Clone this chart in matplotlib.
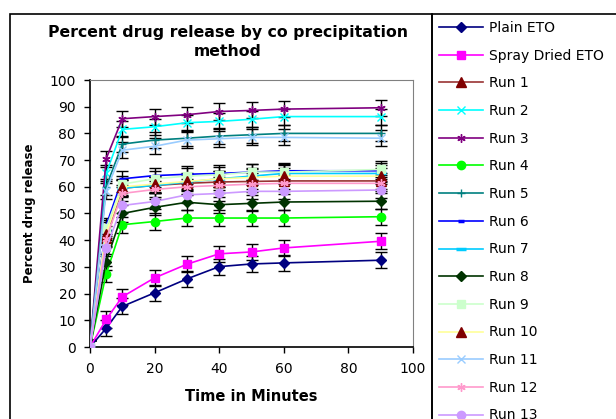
import matplotlib
matplotlib.use("Agg")
import matplotlib.pyplot as plt
from matplotlib.patches import Rectangle

# Dissolution time points (minutes)
time = [0, 5, 10, 20, 30, 40, 50, 60, 90]

# Percent drug released
plain_eto = [0, 7.0, 15.2, 20.3, 25.5, 30.1, 31.1, 31.5, 32.5]
spray_eto = [0, 10.3, 18.8, 25.9, 31.0, 34.9, 35.6, 37.1, 39.6]
run1 = [0, 41.0, 59.5, 60.5, 61.3, 61.8, 62.0, 62.2, 62.2]
run2 = [0, 65.0, 81.5, 82.5, 84.0, 84.5, 85.3, 86.3, 86.3]
run3 = [0, 70.5, 85.5, 86.3, 87.0, 88.2, 88.6, 89.1, 89.6]
run4 = [0, 27.3, 45.8, 47.0, 48.3, 48.3, 48.3, 48.3, 48.8]
run5 = [0, 60.0, 76.0, 77.5, 78.2, 79.0, 79.5, 80.0, 80.0]
run6 = [0, 45.5, 63.0, 64.2, 64.7, 65.0, 65.5, 66.0, 66.0]
run7 = [0, 44.0, 59.5, 60.5, 61.8, 63.0, 64.0, 65.0, 65.0]
run8 = [0, 32.0, 50.0, 52.3, 54.2, 53.3, 53.8, 54.3, 54.6]
run9 = [0, 44.5, 61.0, 63.0, 64.0, 64.5, 65.5, 65.5, 66.5]
run10 = [0, 42.5, 60.0, 61.0, 62.0, 63.0, 63.5, 64.0, 64.0]
run11 = [0, 58.5, 73.7, 75.2, 77.5, 78.0, 78.5, 78.5, 78.2]
run12 = [0, 40.5, 57.5, 59.0, 60.0, 60.5, 61.0, 61.3, 61.3]
run13 = [0, 37.0, 53.0, 54.5, 57.0, 57.5, 58.3, 58.3, 58.8]

# Standard deviation at each time point
sd = [2.5, 3, 3, 3, 3, 3, 3, 3, 3]

asterisk = (6, 2, 0)

# label, values, line colour, marker, marker colour, marker size
series = [
    ("Plain ETO", plain_eto, "#000080", "D", "#000080", 5),
    ("Spray Dried ETO", spray_eto, "#FF00FF", "s", "#FF00FF", 6),
    ("Run 1", run1, "#993333", "^", "#800000", 7),
    ("Run 2", run2, "#00FFFF", "x", "#00FFFF", 6),
    ("Run 3", run3, "#800080", asterisk, "#800080", 6),
    ("Run 4", run4, "#00FF00", "o", "#00FF00", 6),
    ("Run 5", run5, "#008080", "+", "#008080", 6),
    ("Run 6", run6, "#0000FF", "_", "#0000FF", 5),
    ("Run 7", run7, "#00CCFF", "_", "#00CCFF", 7),
    ("Run 8", run8, "#003300", "D", "#003300", 5),
    ("Run 9", run9, "#CCFFCC", "s", "#CCFFCC", 6),
    ("Run 10", run10, "#FFFF99", "^", "#800000", 7),
    ("Run 11", run11, "#99CCFF", "x", "#99CCFF", 6),
    ("Run 12", run12, "#FF99CC", asterisk, "#FF99CC", 6),
    ("Run 13", run13, "#CC99FF", "o", "#CC99FF", 6),
]

plt.rcParams["font.family"] = "DejaVu Sans"

fig = plt.figure(figsize=(6.16, 4.19), dpi=100)
ax = fig.add_axes([90 / 616, 72 / 419, 323 / 616, 267 / 419])

handles = []
for label, vals, lc, mk, mc, ms in series:
    ax.errorbar(time, vals, yerr=sd, fmt="none", ecolor="black",
                elinewidth=1, capsize=4.5, capthick=1, zorder=2)
    mew = 2.5 if mk == "_" else 1
    h, = ax.plot(time, vals, color=lc, lw=1.2, marker=mk, markersize=ms,
                 markerfacecolor=mc, markeredgecolor=mc, markeredgewidth=mew,
                 label=label, zorder=3)
    handles.append(h)

ax.set_xlim(0, 100)
ax.set_ylim(0, 100)
ax.set_xticks(range(0, 101, 20))
ax.set_yticks(range(0, 101, 10))
ax.tick_params(direction="out", length=4, labelsize=10, width=1)
ax.tick_params(axis="x", pad=7)
ax.tick_params(axis="y", pad=6)
for side in ["top", "right"]:
    ax.spines[side].set_color("#808080")
for side in ["left", "bottom"]:
    ax.spines[side].set_linewidth(1.2)

ax.set_xlabel("Time in Minutes", fontsize=10.5, fontweight="bold", labelpad=9)
ax.set_ylabel("Percent drug release", fontsize=8.5, fontweight="bold", labelpad=10)

fig.text(228 / 616, 1 - 42 / 419, "Percent drug release by co precipitation\nmethod",
         ha="center", va="center", fontsize=11.3, fontweight="bold", linespacing=1.3)

# chart border and legend box
fig.patches.append(Rectangle((10 / 616, -0.1), 422 / 616, 1.1 - 14 / 419,
                             transform=fig.transFigure, fill=False,
                             edgecolor="black", lw=1.2))
fig.patches.append(Rectangle((432 / 616, -0.1), 0.5, 1.1 - 14 / 419,
                             transform=fig.transFigure, fill=False,
                             edgecolor="black", lw=1.2))

leg = fig.legend(handles=handles, loc="upper left",
                 bbox_to_anchor=(432 / 616, 1 - 14 / 419), borderaxespad=0,
                 fontsize=10, frameon=False,
                 handlelength=3.2, handletextpad=0.4, labelspacing=0.985,
                 borderpad=0.5, numpoints=1)

fig.savefig("out.png", dpi=100)
